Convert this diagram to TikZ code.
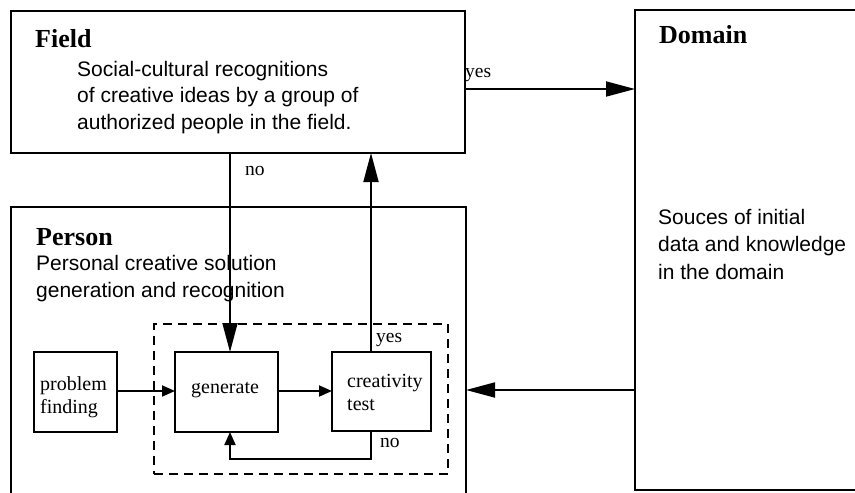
\documentclass[tikz,border=0pt]{standalone}
\usepackage{fontspec}
\setmainfont{Liberation Serif}
\setsansfont{Liberation Sans}
\usetikzlibrary{arrows.meta}
\begin{document}
\begin{tikzpicture}[x=1pt,y=-1pt,
  box/.style={draw, line width=1.5pt, inner sep=0pt, outer sep=0pt, anchor=north west},
  dbox/.style={draw, line width=1.8pt, dash pattern=on 9pt off 6pt, inner sep=0pt, outer sep=0pt, anchor=north west},
  title/.style={font=\fontsize{26}{30}\selectfont\bfseries, anchor=base west, inner sep=0pt},
  body/.style={font=\fontsize{21}{26.5}\selectfont\sffamily, anchor=base west, inner sep=0pt, align=left},
  lbl/.style={font=\fontsize{20}{23}\selectfont, anchor=base west, inner sep=0pt, align=left},
  tag/.style={font=\fontsize{19.5}{23}\selectfont, anchor=base west, inner sep=0pt},
  big/.style={line width=1.8pt, -{Triangle[length=29pt,width=15pt]}},
  small/.style={line width=1.8pt, -{Triangle[length=13pt,width=11pt]}}]
\clip (0,0) rectangle (855,493);

% outer boxes
\node[box, minimum width=454pt, minimum height=142pt] (field) at (11,11) {};
\node[box, minimum width=240pt, minimum height=480pt] (dom) at (635,10) {};
\node[box, minimum width=455pt, minimum height=300pt] (person) at (11,207) {};

% inner loop
\node[dbox, minimum width=294pt, minimum height=150pt] (loop) at (154,324) {};
\node[box, minimum width=83pt, minimum height=80pt] (pf) at (34,352) {};
\node[box, minimum width=103pt, minimum height=80pt] (gen) at (175,352) {};
\node[box, minimum width=99pt, minimum height=79pt] (ct) at (332,352) {};

% texts (multi-line nodes are placed by the baseline of their last line)
\node[title] (tField) at (35,47) {Field};
\node[body] (bField) at (77,129) {Social-cultural recognitions\\of creative ideas by a group of\\authorized people in the field.};
\node[title] (tDom) at (659,43) {Domain};
\node[body, font=\fontsize{21}{27.5}\selectfont\sffamily] (bDom) at (658,279) {Souces of initial\\data and knowledge\\in the domain};
\node[title] (tPerson) at (36,245) {Person};
\node[body] (bPerson) at (36,297) {Personal creative solution\\generation and recognition};
\node[lbl] (lpf) at (40,413) {problem\\finding};
\node[lbl] (lgen) at (191,393) {generate};
\node[lbl] (lct) at (347,410) {creativity\\test};

% connectors
\coordinate (noX) at (230,0);
\coordinate (yesX) at (371,0);
\coordinate (topY) at (0,89);
\coordinate (midY) at (0,390);
\coordinate (stepY) at (0,391);
\coordinate (loopY) at (0,459);

\draw[big] (field.south -| noX) -- (gen.north -| noX);
\draw[big] (ct.north -| yesX) -- (field.south -| yesX);
\draw[big] (field.east |- topY) -- (dom.west |- topY);
\draw[big] (dom.west |- midY) -- (person.east |- midY);
\draw[small] (pf.east |- stepY) -- (gen.west |- stepY);
\draw[small] (gen.east |- stepY) -- (ct.west |- stepY);
\draw[small] (ct.south -| yesX) -- (yesX |- loopY) -- (noX |- loopY) -- (gen.south -| noX);

% branch labels
\node[tag] (nTop) at (245,175) {no};
\node[tag] (yTop) at (465,77) {yes};
\node[tag] (yIn) at (376,342) {yes};
\node[tag] (nIn) at (380,447) {no};
\end{tikzpicture}
\end{document}
